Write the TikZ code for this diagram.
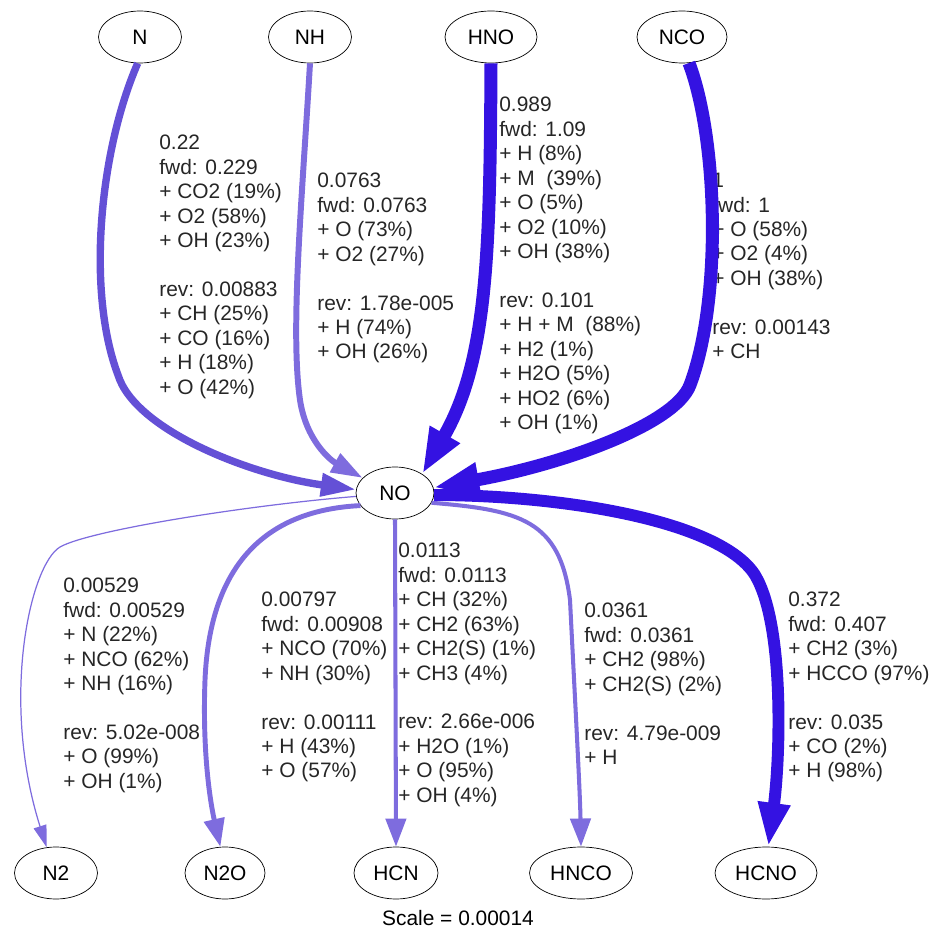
\documentclass[tikz,border=0pt]{standalone}
\usepackage{fontspec}
\setmainfont{Liberation Sans}
\usetikzlibrary{shapes.geometric,arrows.meta}

\definecolor{fluxhigh}{RGB}{52,18,226}
\definecolor{fluxmid}{RGB}{100,80,214}
\definecolor{fluxlow}{RGB}{126,108,222}

\tikzset{
  species/.style={draw, ellipse, fill=white, inner sep=0pt, minimum height=1.04cm, minimum width=1.66cm},
  flowlbl/.style={anchor=north west, align=left, inner sep=0pt, text=black!85},
}

\begin{document}
\begin{tikzpicture}[x=0.02cm, y=-0.02cm, font=\fontsize{11.9}{13.9}\selectfont]
  \useasboundingbox (0,0) rectangle (937,932);

  % species
  \node[species] (N)    at (140,37)  {N};
  \node[species] (NH)   at (310,37)  {NH};
  \node[species, minimum width=1.84cm] (HNO) at (491,37) {HNO};
  \node[species, minimum width=1.80cm] (NCO) at (682,37) {NCO};
  \node[species, minimum width=1.56cm] (NO)  at (395,493) {NO};
  \node[species] (N2)   at (56,873)  {N2};
  \node[species, minimum width=1.60cm] (N2O) at (225,873) {N2O};
  \node[species, minimum width=1.68cm] (HCN) at (396,873) {HCN};
  \node[species, minimum width=2.06cm] (HNCO) at (581,873) {HNCO};
  \node[species, minimum width=2.04cm] (HCNO) at (766,873) {HCNO};
  \node (scale) at (458,918) {Scale = 0.00014};

  % rates
  \node[flowlbl] (lblN) at (159,135) {0.22\\fwd: 0.229\\+ CO2 (19\%)\\+ O2 (58\%)\\+ OH (23\%)\\[13.9pt]rev: 0.00883\\+ CH (25\%)\\+ CO (16\%)\\+ H (18\%)\\+ O (42\%)};
  \node[flowlbl] (lblNH) at (317,173) {0.0763\\fwd: 0.0763\\+ O (73\%)\\+ O2 (27\%)\\[13.9pt]rev: 1.78e-005\\+ H (74\%)\\+ OH (26\%)};
  \node[flowlbl] (lblHNO) at (499,97) {0.989\\fwd: 1.09\\+ H (8\%)\\+ M~ (39\%)\\+ O (5\%)\\+ O2 (10\%)\\+ OH (38\%)\\[13.9pt]rev: 0.101\\+ H + M~ (88\%)\\+ H2 (1\%)\\+ H2O (5\%)\\+ HO2 (6\%)\\+ OH (1\%)};
  \node[flowlbl] (lblNCO) at (712,173) {1\\fwd: 1\\+ O (58\%)\\+ O2 (4\%)\\+ OH (38\%)\\[13.9pt]rev: 0.00143\\+ CH};
  \node[flowlbl] (lblN2) at (63,578) {0.00529\\fwd: 0.00529\\+ N (22\%)\\+ NCO (62\%)\\+ NH (16\%)\\[13.9pt]rev: 5.02e-008\\+ O (99\%)\\+ OH (1\%)};
  \node[flowlbl] (lblN2O) at (261,592) {0.00797\\fwd: 0.00908\\+ NCO (70\%)\\+ NH (30\%)\\[13.9pt]rev: 0.00111\\+ H (43\%)\\+ O (57\%)};
  \node[flowlbl] (lblHCN) at (398,543) {0.0113\\fwd: 0.0113\\+ CH (32\%)\\+ CH2 (63\%)\\+ CH2(S) (1\%)\\+ CH3 (4\%)\\[13.9pt]rev: 2.66e-006\\+ H2O (1\%)\\+ O (95\%)\\+ OH (4\%)};
  \node[flowlbl] (lblHNCO) at (584,603) {0.0361\\fwd: 0.0361\\+ CH2 (98\%)\\+ CH2(S) (2\%)\\[13.9pt]rev: 4.79e-009\\+ H};
  \node[flowlbl] (lblHCNO) at (788,592) {0.372\\fwd: 0.407\\+ CH2 (3\%)\\+ HCCO (97\%)\\[13.9pt]rev: 0.035\\+ CO (2\%)\\+ H (98\%)};

  % fluxes into NO
  \draw[-{Triangle[length=20pt,width=12.5pt]}, line width=4.2pt, fluxmid] (N.265) .. controls (100,150) and (86,290) .. (118,375) .. controls (135,430) and (250,475) .. (NO.175);
  \draw[-{Triangle[length=18pt,width=11.5pt]}, line width=3.4pt, fluxlow] (NH.south) .. controls (302,200) and (290,330) .. (300,400) .. controls (306,440) and (330,460) .. (NO.155);
  \draw[-{Triangle[length=26pt,width=18pt]}, line width=7.4pt, fluxhigh] (HNO.south) .. controls (490,250) and (488,360) .. (NO.35);
  \draw[-{Triangle[length=26pt,width=18pt]}, line width=7.4pt, fluxhigh] (NCO.285) .. controls (718,140) and (722,300) .. (690,385) .. controls (675,425) and (560,465) .. (NO.8);

  % fluxes out of NO
  \draw[-{Triangle[length=12.5pt,width=7.5pt]}, line width=0.7pt, fluxlow] (NO.185) .. controls (250,505) and (90,530) .. (60,547) .. controls (30,565) and (0,700) .. (N2.110);
  \draw[-{Triangle[length=16pt,width=11.5pt]}, line width=2.8pt, fluxlow] (NO.200) .. controls (270,510) and (210,560) .. (205,680) .. controls (202,760) and (212,810) .. (N2O.100);
  \draw[-{Triangle[length=16pt,width=11.5pt]}, line width=2.3pt, fluxlow] (NO.south) -- (HCN.north);
  \draw[-{Triangle[length=16pt,width=11.5pt]}, line width=2.3pt, fluxlow] (NO.-15) .. controls (520,510) and (560,520) .. (570,600) .. controls (575,700) and (580,790) .. (HNCO.north);
  \draw[-{Triangle[length=25pt,width=17pt]}, line width=6.8pt, fluxhigh] (NO.-3) .. controls (560,495) and (720,520) .. (755,575) .. controls (785,625) and (780,760) .. (HCNO.85);
\end{tikzpicture}
\end{document}
